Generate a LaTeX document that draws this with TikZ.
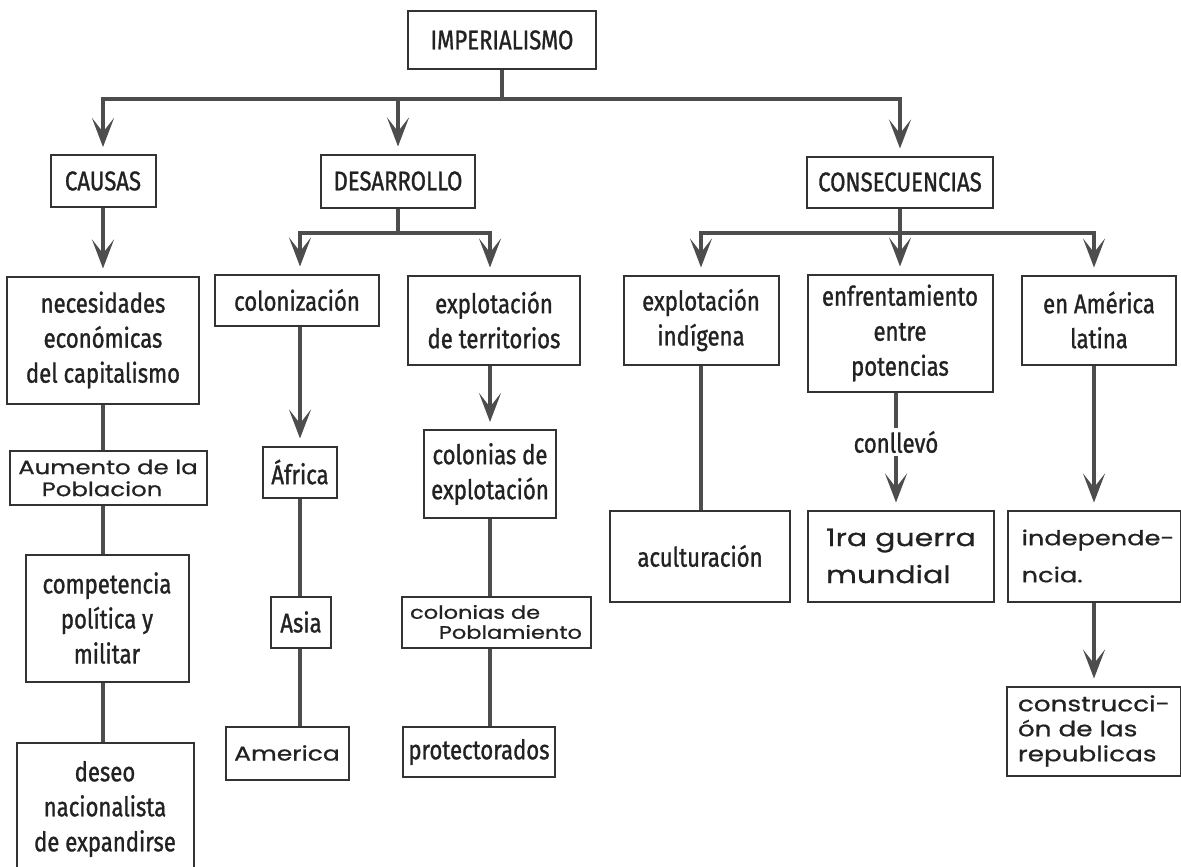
\documentclass[tikz,border=0pt]{standalone}
\usepackage{fontspec}
\setmainfont{Fira Sans}[FakeStretch=0.82,FakeBold=1.1]
\newfontfamily\handfont{Poppins}[FakeStretch=1.25,FakeBold=0.8]
\usepackage{tikz}
\usepackage{xcolor}
\usetikzlibrary{positioning}
\usetikzlibrary{arrows.meta}
\definecolor{inkgray}{HTML}{222222}
\definecolor{boxgray}{HTML}{333333}
\definecolor{linegray}{HTML}{4D4D4D}
\tikzset{
	box/.style={draw=boxgray, line width=2pt, inner sep=3pt, align=center, text=inkgray, font=\fontsize{27}{35}\selectfont},
	handbox/.style={box, align=left, font=\handfont\fontsize{20}{22}\selectfont},
	conn/.style={draw=linegray, line width=3.5pt},
	arr/.style={conn, -{Stealth[length=29pt,width=22pt,inset=14pt]}, shorten >=7pt},
}

\begin{document}
\begin{tikzpicture}[x=1pt,y=-1pt]
		\path[use as bounding box] (0,0) rectangle (1181,867);
		\clip (0,0) rectangle (1181,867);
		\node[box, minimum width=188pt, minimum height=58pt] (imp) at (502,40) {IMPERIALISMO};
		\node[box, minimum width=105pt, minimum height=52pt] (causas) at (103,181) {CAUSAS};
		\node[box, minimum width=154pt, minimum height=53pt] (desarrollo) at (398,181) {DESARROLLO};
		\node[box, minimum width=186pt, minimum height=51pt] (consec) at (900,182) {CONSECUENCIAS};
		\node[box, minimum width=192pt, minimum height=127pt] (nec) at (103,340) {necesidades\\económicas\\del capitalismo};
		\node[handbox, minimum width=197pt, minimum height=54pt, font=\handfont\fontsize{19.5}{22}\selectfont] (aum) at (108,478) {Aumento de la\\\hspace*{1.2em}Poblacion};
		\node[box, minimum width=163pt, minimum height=127pt] (comp) at (107,618) {competencia\\política y\\militar};
		\node[box, minimum width=177pt, minimum height=132pt] (deseo) at (105,809) {deseo\\nacionalista\\de expandirse};
		\node[box, minimum width=164pt, minimum height=51pt] (colon) at (297,300) {colonización};
		\node[box, minimum width=74pt, minimum height=51pt] (africa) at (300,472) {África};
		\node[box, minimum width=60pt, minimum height=51pt] (asia) at (301,622) {Asia};
		\node[handbox, minimum width=123pt, minimum height=53pt] (america) at (287,753) {America};
		\node[box, minimum width=172pt, minimum height=89pt] (explter) at (494,320) {explotación\\de territorios};
		\node[box, minimum width=132pt, minimum height=88pt] (colexp) at (490,474) {colonias de\\explotación};
		\node[handbox, minimum width=189pt, minimum height=51pt, font=\handfont\fontsize{18}{20}\selectfont] (colpob) at (496,622) {colonias de\\\hspace*{1.6em}Poblamiento};
		\node[box, minimum width=152pt, minimum height=50pt] (protect) at (479,752) {protectorados};
		\node[box, minimum width=155pt, minimum height=89pt] (explind) at (701,320) {explotación\\indígena};
		\node[box, minimum width=180pt, minimum height=91pt] (acult) at (700,556) {aculturación};
		\node[box, minimum width=185pt, minimum height=117pt] (enfr) at (900,333) {enfrentamiento\\entre\\potencias};
		\node[box, draw=none, inner sep=2pt] (conllevo) at (896,442) {conllevó};
		\node[handbox, minimum width=186pt, minimum height=91pt, font=\handfont\fontsize{24}{37}\selectfont] (guerra) at (901,556) {1ra guerra\\mundial};
		\node[box, minimum width=154pt, minimum height=89pt] (amlat) at (1099,320) {en América\\latina};
		\node[handbox, minimum width=173pt, minimum height=91pt, font=\handfont\fontsize{20.5}{37}\selectfont] (indep) at (1094,556) {\hspace*{0.4em}independe-\\\hspace*{0.4em}ncia.};
		\node[handbox, minimum width=174pt, minimum height=89pt, font=\handfont\fontsize{21}{25}\selectfont] (constr) at (1094,731) {construcci-\\ón de las\\republicas};
		\coordinate (jtop) at (502,99);
		\coordinate (jdes) at (398,233);
		\coordinate (jcon) at (900,233);
		\draw[conn] (imp) -- (jtop);
		\draw[arr] (jtop) -| (causas.north);
		\draw[arr] (jtop) -| (desarrollo.north);
		\draw[arr] (jtop) -| (consec.north);
		\draw[conn] (desarrollo) -- (jdes);
		\draw[arr] (jdes) -| (colon.north -| africa);
		\draw[arr] (jdes) -| (explter.north -| colexp);
		\draw[conn] (consec) -- (jcon);
		\draw[arr] (jcon) -| (explind.north);
		\draw[arr] (jcon) -| (enfr.north);
		\draw[arr] (jcon) -| (amlat.north -| indep);
		\draw[arr] (causas) -- (nec);
		\draw[conn] (nec) -- (nec |- aum.north);
		\draw[conn] (nec |- aum.south) -- (nec |- comp.north);
		\draw[conn] (nec |- comp.south) -- (nec |- deseo.north);
		\draw[arr] (africa |- colon.south) -- (africa);
		\draw[conn] (africa) -- (africa |- asia.north);
		\draw[conn] (africa |- asia.south) -- (africa |- america.north);
		\draw[arr] (colexp |- explter.south) -- (colexp);
		\draw[conn] (colexp) -- (colexp |- colpob.north);
		\draw[conn] (colexp |- colpob.south) -- (colexp |- protect.north);
		\draw[conn] (explind) -- (explind |- acult.north);
		\draw[conn] (enfr.south -| conllevo) -- (conllevo);
		\draw[arr] (conllevo) -- (conllevo |- guerra.north);
		\draw[arr] (indep |- amlat.south) -- (indep);
		\draw[arr] (indep) -- (indep |- constr.north);
	\end{tikzpicture}
\end{document}
